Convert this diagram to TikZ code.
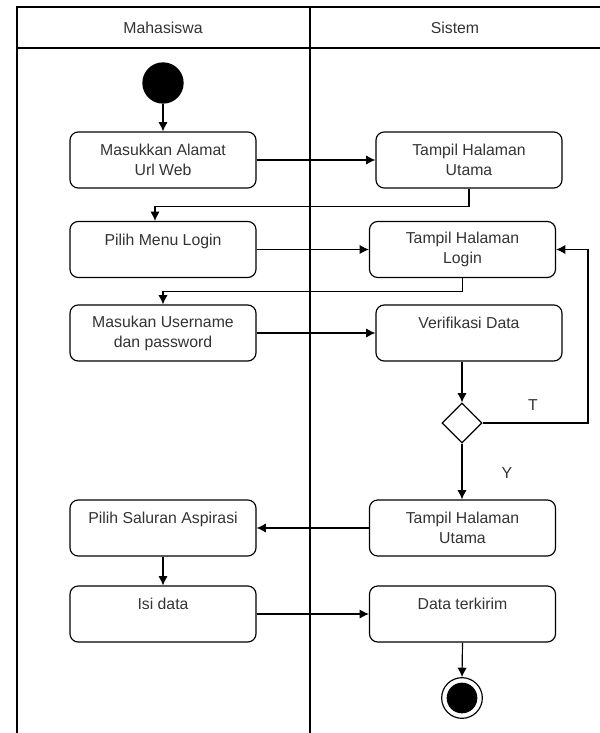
\documentclass[tikz,border=0pt]{standalone}
\usepackage{fontspec}
\setmainfont{Liberation Sans}
\usepackage{tikz}
\usetikzlibrary{shapes.geometric}
\usetikzlibrary{positioning,calc,arrows.meta}

\begin{document}
\begin{tikzpicture}[x=0.03cm, y=-0.03cm, font=\fontsize{13.5}{17}\selectfont]

\tikzstyle{activity}=[draw,rounded corners=7pt,line width=1pt,text=black!80,align=center,minimum width=5.58cm,minimum height=1.68cm,inner sep=2pt]
\tikzstyle{decision}=[draw,diamond,line width=1pt,minimum width=1.2cm,minimum height=1.2cm,inner sep=0pt]
\tikzstyle{flow}=[line width=1pt,-{Latex[length=8pt,width=8pt]}]
\tikzstyle{lane}=[line width=0.9pt]

\useasboundingbox (0,0) rectangle (600,733);

% swimlanes
\draw [lane] (17,733) -- (17,7) -- (600,7);
\draw [lane] (17,48) -- (600,48);
\draw [lane] (310,7) -- (310,733);
\node (mhs) [text=black!80] at (163,28) {Mahasiswa};
\node (sis) [text=black!80] at (455,28) {Sistem};

\node (mulai) [circle,fill=black,minimum size=1.24cm,inner sep=0pt] at (163,83) {};

\node (alamat) [activity] at (163,160) {Masukkan Alamat\\Url Web};
\node (utama) [activity] at (469,160) {Tampil Halaman\\Utama};
\node (menu) [activity] at (163,249.5) {Pilih Menu Login\\\mbox{}};
\node (login) [activity] at (462.5,249.5) {Tampil Halaman\\Login};
\node (masuk) [activity] at (163,333) {Masukan Username\\dan password};
\node (verif) [activity] at (469,333) {Verifikasi Data\\\mbox{}};
\node (cek) [decision] at (462,423) {};
\node (saluran) [activity] at (163,528) {Pilih Saluran Aspirasi\\\mbox{}};
\node (utama2) [activity] at (462.5,528) {Tampil Halaman\\Utama};
\node (isi) [activity] at (163,614) {Isi data\\\mbox{}};
\node (kirim) [activity] at (462.5,614) {Data terkirim\\\mbox{}};
\node (akhir) [circle,draw,line width=1pt,minimum size=1.22cm,inner sep=0pt] at (462,698) {};
\fill [black] (akhir.center) circle (0.46cm);

\node (t) [text=black!80] at (533,405) {T};
\node (y) [text=black!80] at (507,473) {Y};

\coordinate (balik) at (588,249.5);

\draw [flow] (mulai.south) -- (alamat.north);
\draw [flow] (alamat.east) -- (utama.west);
\draw [flow] (utama.south) -- ++(0,18) -| ([xshift=-0.24cm]menu.north);
\draw [flow] (menu.east) -- (login.west);
\draw [flow] (login.south) -- ++(0,13) -| (masuk.north);
\draw [flow] (masuk.east) -- (verif.west);
\draw [flow] (cek |- verif.south) -- (cek.north);
\draw [flow] (cek.east) -| (balik) -- (login.east);
\draw [flow] (cek.south) -- (cek |- utama2.north);
\draw [flow] (utama2.west) -- (saluran.east);
\draw [flow] (saluran.south) -- (isi.north);
\draw [flow] (isi.east) -- (kirim.west);
\draw [flow] (kirim.south) -- (akhir.north);

\end{tikzpicture}
\end{document}
